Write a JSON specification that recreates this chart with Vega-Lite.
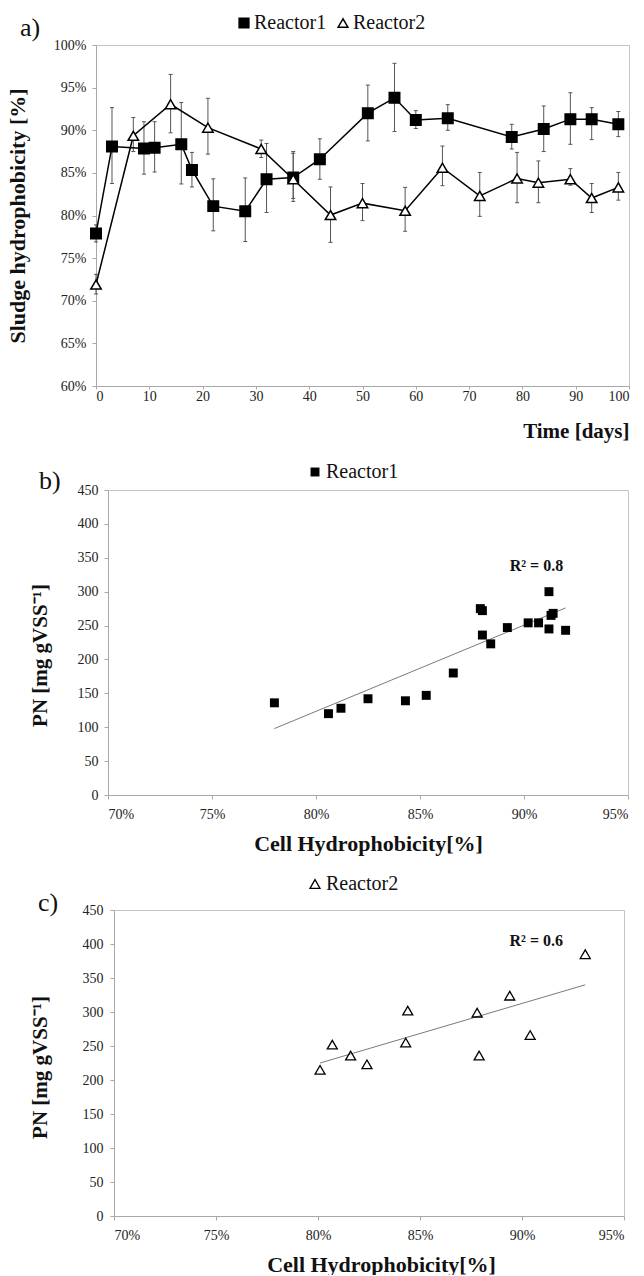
{
  "$schema": "https://vega.github.io/schema/vega-lite/v6.json",
  "padding": {"left": 5, "top": 12, "right": 5, "bottom": 0},
  "background": "white",
  "spacing": 20,
  "resolve": {"scale": {"color": "independent", "shape": "independent", "fill": "independent", "stroke": "independent"}, "legend": {"color": "independent", "shape": "independent", "fill": "independent", "stroke": "independent"}},
  "config": {
    "font": "Liberation Serif",
    "view": {"stroke": "#c4c4c4", "strokeWidth": 1},
    "axis": {"domainColor": "#a8a8a8", "tickColor": "#a8a8a8", "grid": false, "labelFont": "Liberation Serif", "labelFontSize": 14, "labelColor": "#222222", "titleFont": "Liberation Serif", "titleFontWeight": "bold", "titleColor": "#111111", "tickSize": 4},
    "legend": {"labelFont": "Liberation Serif", "labelFontSize": 20, "labelColor": "#111111", "symbolStrokeWidth": 1.5, "symbolSize": 90, "labelOffset": 1, "columnPadding": 10},
    "title": {"font": "Liberation Serif", "fontSize": 26, "fontWeight": "normal", "color": "#111111", "anchor": "start", "frame": "group"}
  },
  "vconcat": [
    {
      "width": 533,
      "height": 341,
      "title": {"text": "a)", "dx": -76, "dy": 32},
      "data": {"values": [
        {"day": 0, "r": "Reactor1", "v": 77.9, "lo": 76.9, "hi": 78.9},
        {"day": 3, "r": "Reactor1", "v": 88.1, "lo": 83.75, "hi": 92.66},
        {"day": 9, "r": "Reactor1", "v": 87.85, "lo": 84.85, "hi": 91.0},
        {"day": 11, "r": "Reactor1", "v": 87.95, "lo": 85.1, "hi": 91.0},
        {"day": 16, "r": "Reactor1", "v": 88.35, "lo": 83.7, "hi": 93.25},
        {"day": 18, "r": "Reactor1", "v": 85.35, "lo": 83.35, "hi": 87.4},
        {"day": 22, "r": "Reactor1", "v": 81.1, "lo": 78.2, "hi": 84.3},
        {"day": 28, "r": "Reactor1", "v": 80.5, "lo": 76.95, "hi": 84.4},
        {"day": 32, "r": "Reactor1", "v": 84.25, "lo": 80.35, "hi": 88.45},
        {"day": 37, "r": "Reactor1", "v": 84.45, "lo": 82.0, "hi": 87.3},
        {"day": 42, "r": "Reactor1", "v": 86.6, "lo": 84.25, "hi": 89.0},
        {"day": 51, "r": "Reactor1", "v": 92.0, "lo": 88.75, "hi": 95.3},
        {"day": 56, "r": "Reactor1", "v": 93.8, "lo": 89.85, "hi": 97.85},
        {"day": 60, "r": "Reactor1", "v": 91.2, "lo": 90.2, "hi": 92.3},
        {"day": 66, "r": "Reactor1", "v": 91.4, "lo": 90.0, "hi": 93.0},
        {"day": 78, "r": "Reactor1", "v": 89.2, "lo": 87.8, "hi": 90.7},
        {"day": 84, "r": "Reactor1", "v": 90.15, "lo": 87.5, "hi": 92.85},
        {"day": 89, "r": "Reactor1", "v": 91.3, "lo": 88.35, "hi": 94.4},
        {"day": 93, "r": "Reactor1", "v": 91.3, "lo": 88.9, "hi": 92.65},
        {"day": 98, "r": "Reactor1", "v": 90.7, "lo": 89.25, "hi": 92.2},
        {"day": 0, "r": "Reactor2", "v": 71.9, "lo": 70.8, "hi": 73.1},
        {"day": 7, "r": "Reactor2", "v": 89.35, "lo": 87.5, "hi": 91.5},
        {"day": 14, "r": "Reactor2", "v": 93.05, "lo": 89.7, "hi": 96.55},
        {"day": 21, "r": "Reactor2", "v": 90.3, "lo": 87.2, "hi": 93.75},
        {"day": 31, "r": "Reactor2", "v": 87.8, "lo": 86.8, "hi": 88.85},
        {"day": 37, "r": "Reactor2", "v": 84.25, "lo": 81.65, "hi": 87.5},
        {"day": 44, "r": "Reactor2", "v": 80.05, "lo": 76.85, "hi": 83.35},
        {"day": 50, "r": "Reactor2", "v": 81.45, "lo": 79.4, "hi": 83.75},
        {"day": 58, "r": "Reactor2", "v": 80.55, "lo": 78.15, "hi": 83.3},
        {"day": 65, "r": "Reactor2", "v": 85.6, "lo": 83.5, "hi": 88.15},
        {"day": 72, "r": "Reactor2", "v": 82.3, "lo": 79.9, "hi": 85.05},
        {"day": 79, "r": "Reactor2", "v": 84.35, "lo": 81.5, "hi": 87.4},
        {"day": 83, "r": "Reactor2", "v": 83.85, "lo": 81.5, "hi": 86.4},
        {"day": 89, "r": "Reactor2", "v": 84.25, "lo": 83.55, "hi": 85.5},
        {"day": 93, "r": "Reactor2", "v": 82.05, "lo": 80.35, "hi": 83.75},
        {"day": 98, "r": "Reactor2", "v": 83.3, "lo": 81.8, "hi": 85.05}
      ]},
      "encoding": {
        "x": {"field": "day", "type": "quantitative", "scale": {"domain": [0, 100], "nice": false, "zero": false},
              "axis": {"values": [0,10,20,30,40,50,60,70,80,90,100], "title": "Time [days]", "titleAnchor": "end", "titleFontSize": 21, "titlePadding": 17, "tickSize": 3, "labelPadding": 0}}
      },
      "layer": [
        {"mark": {"type": "rule", "color": "#555555", "strokeWidth": 1},
         "encoding": {"y": {"field": "lo", "type": "quantitative", "scale": {"domain": [60, 100], "nice": false, "zero": false}}, "y2": {"field": "hi"}}},
        {"mark": {"type": "tick", "orient": "horizontal", "size": 4, "thickness": 1, "color": "#555555", "opacity": 1},
         "encoding": {"y": {"field": "lo", "type": "quantitative", "scale": {"domain": [60, 100], "nice": false, "zero": false}}}},
        {"mark": {"type": "tick", "orient": "horizontal", "size": 4, "thickness": 1, "color": "#555555", "opacity": 1},
         "encoding": {"y": {"field": "hi", "type": "quantitative", "scale": {"domain": [60, 100], "nice": false, "zero": false}}}},
        {"mark": {"type": "line", "color": "black", "strokeWidth": 1.5},
         "encoding": {"y": {"field": "v", "type": "quantitative", "scale": {"domain": [60, 100], "nice": false, "zero": false}}, "detail": {"field": "r"}}},
        {"mark": {"type": "point", "size": 110, "strokeWidth": 1.5, "opacity": 1},
         "encoding": {
           "y": {"field": "v", "type": "quantitative", "scale": {"domain": [60, 100], "nice": false, "zero": false},
                 "axis": {"values": [60,65,70,75,80,85,90,95,100], "labelExpr": "datum.value + '%'", "title": "Sludge hydrophobicity [%]", "titleFontSize": 22, "titlePadding": 24, "labelPadding": 6}},
           "shape": {"field": "r", "type": "nominal", "scale": {"domain": ["Reactor1", "Reactor2"], "range": ["square", "triangle-up"]},
                     "legend": {"title": null, "orient": "none", "legendX": 138, "legendY": -32, "direction": "horizontal", "symbolSize": 95, "columnPadding": 6, "labelOffset": 0}},
           "fill": {"field": "r", "type": "nominal", "scale": {"domain": ["Reactor1", "Reactor2"], "range": ["black", "white"]},
                    "legend": {"title": null, "orient": "none", "legendX": 138, "legendY": -32, "direction": "horizontal", "symbolSize": 95, "columnPadding": 6, "labelOffset": 0}},
           "stroke": {"field": "r", "type": "nominal", "scale": {"domain": ["Reactor1", "Reactor2"], "range": ["black", "black"]},
                      "legend": {"title": null, "orient": "none", "legendX": 138, "legendY": -32, "direction": "horizontal", "symbolSize": 95, "columnPadding": 6, "labelOffset": 0}}
         }}
      ]
    },
    {
      "width": 532,
      "height": 305,
      "view": {"stroke": null},
      "title": {"text": "b)", "dx": -57, "dy": 36},
      "layer": [
        {"data": {"values": [{"ch": 78.0, "pn": 98}, {"ch": 92.0, "pn": 276}]},
         "mark": {"type": "line", "color": "#7a7a7a", "strokeWidth": 1},
         "encoding": {
           "x": {"field": "ch", "type": "quantitative", "scale": {"domain": [70, 95], "range": [12, 532], "nice": false, "zero": false},
                 "axis": {"orient": "top", "labels": false, "ticks": false, "title": null, "domainColor": "#c4c4c4"}},
           "y": {"field": "pn", "type": "quantitative", "scale": {"domain": [0, 450], "nice": false},
                 "axis": {"orient": "right", "labels": false, "ticks": false, "title": null, "domainColor": "#c4c4c4"}}}},
        {"data": {"values": [{"ch": 90.6, "pn": 338, "t": "R² = 0.8"}]},
         "mark": {"type": "text", "fontSize": 16, "fontWeight": "bold", "font": "Liberation Serif", "color": "#111111"},
         "encoding": {
           "x": {"field": "ch", "type": "quantitative", "scale": {"domain": [70, 95], "range": [12, 532], "nice": false, "zero": false}, "axis": null},
           "y": {"field": "pn", "type": "quantitative", "scale": {"domain": [0, 450], "nice": false}, "axis": null},
           "text": {"field": "t"}}},
        {"data": {"values": [
          {"r": "Reactor1", "ch": 78.0, "pn": 136}, {"r": "Reactor1", "ch": 80.6, "pn": 120}, {"r": "Reactor1", "ch": 81.2, "pn": 128},
          {"r": "Reactor1", "ch": 82.5, "pn": 142}, {"r": "Reactor1", "ch": 84.3, "pn": 139}, {"r": "Reactor1", "ch": 85.3, "pn": 147},
          {"r": "Reactor1", "ch": 86.6, "pn": 180}, {"r": "Reactor1", "ch": 87.9, "pn": 275}, {"r": "Reactor1", "ch": 88.0, "pn": 272},
          {"r": "Reactor1", "ch": 88.0, "pn": 236}, {"r": "Reactor1", "ch": 88.4, "pn": 223}, {"r": "Reactor1", "ch": 89.2, "pn": 247},
          {"r": "Reactor1", "ch": 90.2, "pn": 254}, {"r": "Reactor1", "ch": 90.7, "pn": 254}, {"r": "Reactor1", "ch": 91.2, "pn": 300},
          {"r": "Reactor1", "ch": 91.2, "pn": 245}, {"r": "Reactor1", "ch": 91.3, "pn": 265}, {"r": "Reactor1", "ch": 91.4, "pn": 268},
          {"r": "Reactor1", "ch": 92.0, "pn": 243}
        ]},
         "mark": {"type": "point", "filled": true, "size": 80, "opacity": 1, "shape": "square"},
         "encoding": {
           "x": {"field": "ch", "type": "quantitative", "scale": {"domain": [70, 95], "range": [12, 532], "nice": false, "zero": false},
                 "axis": {"orient": "bottom", "values": [70,75,80,85,90,95], "labelExpr": "datum.value + '%'", "title": "Cell Hydrophobicity[%]", "titleFontSize": 22, "titlePadding": 12, "labelPadding": 8}},
           "y": {"field": "pn", "type": "quantitative", "scale": {"domain": [0, 450], "nice": false},
                 "axis": {"orient": "left", "offset": -12, "values": [0,50,100,150,200,250,300,350,400,450], "title": "PN [mg gVSS⁻¹]", "titleFontSize": 21, "titlePadding": 27, "titleY": 165, "labelPadding": 6}},
           "color": {"field": "r", "type": "nominal", "scale": {"range": ["black"]},
                     "legend": {"title": null, "orient": "none", "legendX": 209, "legendY": -28, "symbolType": "square", "symbolSize": 80, "symbolStrokeWidth": 0}}
         }}
      ]
    },
    {
      "width": 528,
      "height": 306,
      "view": {"stroke": null},
      "title": {"text": "c)", "dx": -58, "dy": 46},
      "layer": [
        {"data": {"values": [{"ch": 80.1, "pn": 225}, {"ch": 93.1, "pn": 340}]},
         "mark": {"type": "line", "color": "#7a7a7a", "strokeWidth": 1},
         "encoding": {
           "x": {"field": "ch", "type": "quantitative", "scale": {"domain": [70, 95], "range": [18, 528], "nice": false, "zero": false},
                 "axis": {"orient": "top", "labels": false, "ticks": false, "title": null, "domainColor": "#c4c4c4"}},
           "y": {"field": "pn", "type": "quantitative", "scale": {"domain": [0, 450], "nice": false},
                 "axis": {"orient": "right", "labels": false, "ticks": false, "title": null, "domainColor": "#c4c4c4"}}}},
        {"data": {"values": [{"ch": 90.7, "pn": 405, "t": "R² = 0.6"}]},
         "mark": {"type": "text", "fontSize": 16, "fontWeight": "bold", "font": "Liberation Serif", "color": "#111111"},
         "encoding": {
           "x": {"field": "ch", "type": "quantitative", "scale": {"domain": [70, 95], "range": [18, 528], "nice": false, "zero": false}, "axis": null},
           "y": {"field": "pn", "type": "quantitative", "scale": {"domain": [0, 450], "nice": false}, "axis": null},
           "text": {"field": "t"}}},
        {"data": {"values": [
          {"r": "Reactor2", "ch": 80.1, "pn": 215}, {"r": "Reactor2", "ch": 80.7, "pn": 252}, {"r": "Reactor2", "ch": 81.6, "pn": 236},
          {"r": "Reactor2", "ch": 82.4, "pn": 223}, {"r": "Reactor2", "ch": 84.3, "pn": 255}, {"r": "Reactor2", "ch": 84.4, "pn": 302},
          {"r": "Reactor2", "ch": 87.8, "pn": 299}, {"r": "Reactor2", "ch": 87.9, "pn": 236}, {"r": "Reactor2", "ch": 89.4, "pn": 324},
          {"r": "Reactor2", "ch": 90.4, "pn": 266}, {"r": "Reactor2", "ch": 93.1, "pn": 385}
        ]},
         "mark": {"type": "point", "filled": false, "size": 100, "opacity": 1, "shape": "triangle-up", "strokeWidth": 1.3},
         "encoding": {
           "x": {"field": "ch", "type": "quantitative", "scale": {"domain": [70, 95], "range": [18, 528], "nice": false, "zero": false},
                 "axis": {"orient": "bottom", "values": [70,75,80,85,90,95], "labelExpr": "datum.value + '%'", "title": "Cell Hydrophobicity[%]", "titleFontSize": 22, "titlePadding": 12, "labelPadding": 8, "titleX": 285}},
           "y": {"field": "pn", "type": "quantitative", "scale": {"domain": [0, 450], "nice": false},
                 "axis": {"orient": "left", "offset": -18, "values": [0,50,100,150,200,250,300,350,400,450], "title": "PN [mg gVSS⁻¹]", "titleFontSize": 21, "titlePadding": 32, "titleY": 157, "labelPadding": 7}},
           "color": {"field": "r", "type": "nominal", "scale": {"range": ["black"]},
                     "legend": {"title": null, "orient": "none", "legendX": 209, "legendY": -36, "symbolType": "triangle-up", "symbolSize": 100, "symbolStrokeWidth": 1.3}}
         }}
      ]
    }
  ]
}
